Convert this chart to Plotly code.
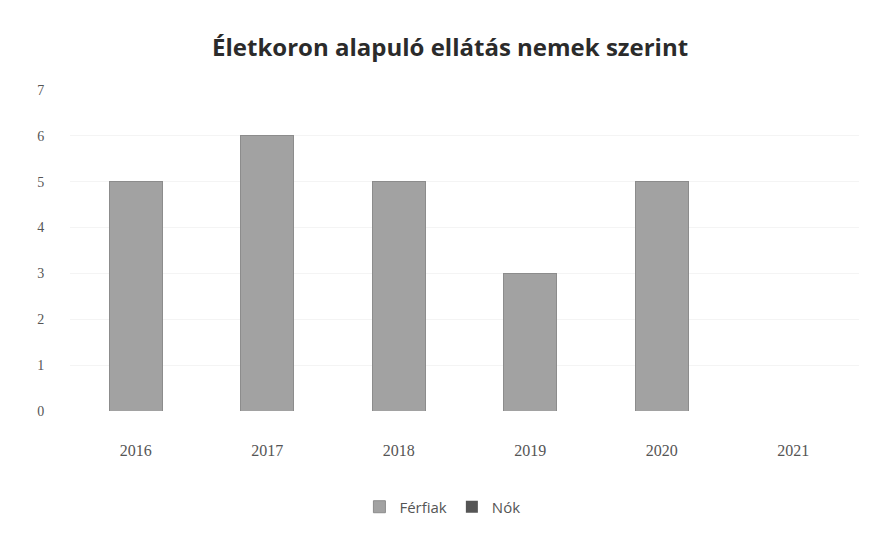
import plotly.graph_objects as go

years = ["2016", "2017", "2018", "2019", "2020", "2021"]
ferfiak = [5, 6, 5, 3, 5, 0]
nok = [0, 0, 0, 0, 0, 0]
y_ticks = [0, 1, 2, 3, 4, 5, 6, 7]

fig = go.Figure()
fig.add_trace(go.Bar(
    x=years, y=ferfiak, name="Férfiak",
    marker=dict(color="#a2a2a2", line=dict(color="#8c8c8c", width=1)),
))
fig.add_trace(go.Bar(
    x=years, y=nok, name="Nók",
    marker=dict(color="#555555", line=dict(width=0)),
))

fig.update_layout(
    width=872, height=529,
    barmode="stack",
    bargap=0.6,
    paper_bgcolor="white",
    plot_bgcolor="white",
    margin=dict(l=62, r=21, t=82, b=126),
    title=dict(
        text="<b>Életkoron alapuló ellátás nemek szerint</b>",
        x=0.507, xanchor="center", y=0.926, yanchor="middle",
        font=dict(family="Open Sans, Noto Sans, sans-serif", size=24, color="#2b2b2b"),
    ),
    legend=dict(
        orientation="h", x=0.472, xanchor="center", y=-0.299, yanchor="middle",
        font=dict(family="Open Sans, Noto Sans, sans-serif", size=15, color="#555555"),
        itemwidth=30, traceorder="normal",
    ),
    font=dict(family="Liberation Serif, DejaVu Serif, serif", size=14, color="#555555"),
)
fig.update_xaxes(
    showgrid=False, showline=False, zeroline=False,
    ticks="outside", ticklen=25, tickcolor="rgba(0,0,0,0)",
    tickfont=dict(family="Liberation Serif, serif", size=16, color="#555555"),
)
fig.update_yaxes(
    range=[0, 7], tickvals=y_ticks,
    showgrid=True, gridcolor="#f4f4f4", gridwidth=1,
    zeroline=False, showline=False,
    ticks="outside", ticklen=22, tickcolor="rgba(0,0,0,0)",
    tickfont=dict(family="Liberation Serif, serif", size=14, color="#555555"),
)

fig.write_html("out.html")
